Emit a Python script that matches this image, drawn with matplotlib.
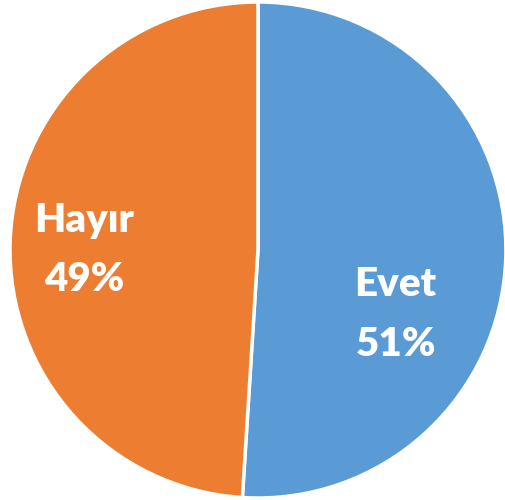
import matplotlib
matplotlib.use("Agg")
import matplotlib.pyplot as plt

labels = ["Evet", "Hayır"]
values = [51, 49]
colors = ["#5B9BD5", "#ED7D31"]
# label placement (fraction of radius, x/y)
label_pos = [(0.555, -0.26), (-0.70, 0.0)]

fig = plt.figure(figsize=(5.05, 5.0), dpi=100)
ax = fig.add_axes([0.0198, 0.004, 0.982, 0.992])
ax.pie(values, colors=colors, startangle=90, counterclock=False,
       wedgeprops=dict(edgecolor="white", linewidth=2.5), radius=1.0)
ax.set_xlim(-1, 1)
ax.set_ylim(-1, 1)
ax.set_aspect("auto")
ax.axis("off")

for lab, v, (x, y) in zip(labels, values, label_pos):
    ax.text(x, y, f"{lab}\n{v}%", ha="center", va="center", color="white",
            fontsize=29, fontweight="heavy", family=["Lato", "DejaVu Sans"],
            linespacing=1.75)

fig.savefig("out.png", dpi=100)
